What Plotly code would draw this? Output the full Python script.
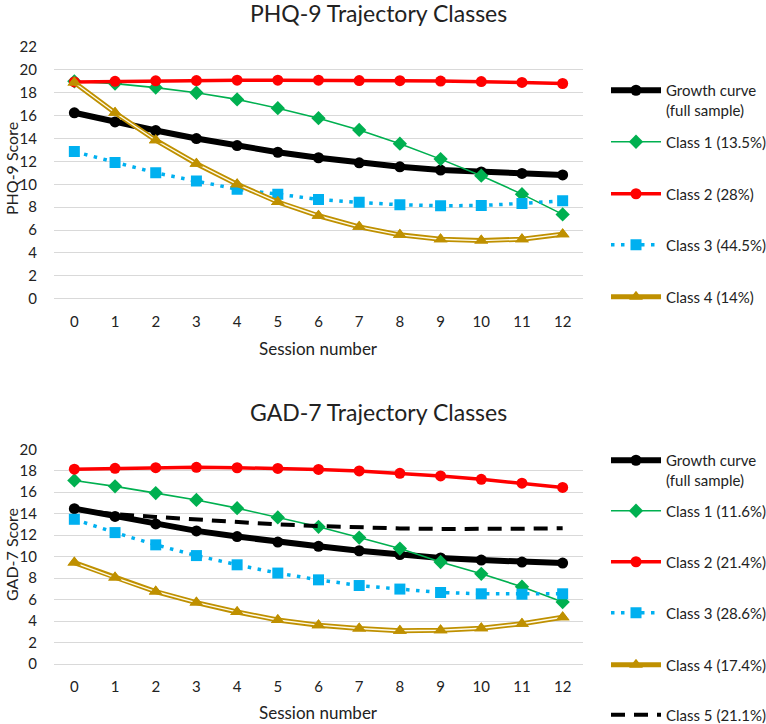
import plotly.graph_objects as go
from plotly.subplots import make_subplots

sessions = list(range(13))

# PHQ-9 panel
phq_growth = [16.25, 15.45, 14.7, 14.0, 13.38, 12.8, 12.32, 11.88, 11.53, 11.24, 11.08, 10.95, 10.82]
phq_c1 = [19.0, 18.8, 18.45, 18.0, 17.42, 16.65, 15.78, 14.75, 13.55, 12.2, 10.75, 9.14, 7.37]
phq_c2 = [18.95, 19.0, 19.04, 19.07, 19.1, 19.1, 19.1, 19.07, 19.06, 19.02, 18.98, 18.9, 18.81]
phq_c3 = [12.86, 11.9, 11.0, 10.28, 9.57, 9.14, 8.68, 8.42, 8.21, 8.12, 8.15, 8.33, 8.56]
phq_c4 = [18.9, 16.25, 13.85, 11.8, 10.0, 8.45, 7.25, 6.28, 5.58, 5.2, 5.08, 5.2, 5.64]
phq_names = ["Growth curve<br>(full sample)", "Class 1 (13.5%)", "Class 2 (28%)",
             "Class 3 (44.5%)", "Class 4 (14%)"]

# GAD-7 panel
gad_growth = [14.47, 13.75, 13.05, 12.4, 11.87, 11.36, 10.96, 10.55, 10.2, 9.88, 9.68, 9.5, 9.4]
gad_c1 = [17.1, 16.55, 15.92, 15.28, 14.52, 13.65, 12.78, 11.78, 10.75, 9.5, 8.4, 7.2, 5.77]
gad_c2 = [18.15, 18.23, 18.29, 18.32, 18.28, 18.22, 18.12, 17.98, 17.76, 17.52, 17.2, 16.84, 16.45]
gad_c3 = [13.48, 12.24, 11.1, 10.1, 9.24, 8.47, 7.84, 7.31, 6.98, 6.66, 6.54, 6.5, 6.54]
gad_c4 = [9.45, 8.05, 6.75, 5.72, 4.85, 4.1, 3.62, 3.3, 3.1, 3.15, 3.33, 3.75, 4.35]
gad_c5 = [14.4, 13.95, 13.7, 13.45, 13.2, 13.0, 12.85, 12.72, 12.63, 12.58, 12.57, 12.6, 12.65]
gad_names = ["Growth curve<br>(full sample)", "Class 1 (11.6%)", "Class 2 (21.4%)",
             "Class 3 (28.6%)", "Class 4 (17.4%)", "Class 5 (21.1%)"]

FONT = "Lato"
TXT = "#222"
GOLD = "#bf9000"

# pixel geometry of the original figure
W, H = 766, 724
L, R, T, B = 54, 183, 47, 60
PW, PH = W - L - R, H - T - B


def px(x):
    return (x - L) / PW


def py(y):
    return (H - B - y) / PH


styles = [
    dict(line=dict(color="black", width=6), marker=dict(symbol="circle", size=11, color="black")),
    dict(line=dict(color="#00b050", width=1.6), marker=dict(symbol="diamond", size=11, color="#00b050")),
    dict(line=dict(color="#ff0000", width=3.5), marker=dict(symbol="circle", size=11, color="#ff0000")),
    dict(line=dict(color="#00b0f0", width=3.5, dash="3.5px,6.5px"),
         marker=dict(symbol="square", size=11, color="#00b0f0")),
    dict(line=dict(color=GOLD, width=5), marker=dict(symbol="triangle-up", size=12, color=GOLD)),
]

fig = make_subplots(rows=2, cols=1, vertical_spacing=0.0)

# legend rows (pixel y of each entry) for both panels
phq_leg_y = [100, 142, 194, 245, 297]
gad_leg_y = [470, 511, 562, 613, 665, 715]


def add_panel(row, series, names, leg_rows, leg_offset):
    for i, (ys, name) in enumerate(zip(series, names)):
        n = leg_offset + i
        leg = "legend" if n == 0 else f"legend{n + 1}"
        if i == 5:
            fig.add_trace(go.Scatter(x=sessions, y=ys, name=name, mode="lines",
                                     line=dict(color="black", width=4, dash="14px,9px"),
                                     legend=leg), row=row, col=1)
        else:
            st = styles[i]
            fig.add_trace(go.Scatter(x=sessions, y=ys, name=name, mode="lines+markers",
                                     line=st["line"], marker=st["marker"], legend=leg),
                          row=row, col=1)
            if i == 4:
                # inner stroke for the double line
                fig.add_trace(go.Scatter(x=sessions, y=ys, mode="lines", showlegend=False,
                                         line=dict(color="#fffbe8", width=1.4)),
                              row=row, col=1)
                fig.add_trace(go.Scatter(x=sessions, y=ys, mode="markers", showlegend=False,
                                         marker=st["marker"]), row=row, col=1)
        fig.layout[leg] = dict(
            x=px(606), y=py(leg_rows[i]), xanchor="left", yanchor="middle",
            bgcolor="rgba(0,0,0,0)", font=dict(family=FONT, size=15, color=TXT),
            itemwidth=50, valign="top" if i == 0 else "middle",
        )


add_panel(1, [phq_growth, phq_c1, phq_c2, phq_c3, phq_c4], phq_names, phq_leg_y, 0)
add_panel(2, [gad_growth, gad_c1, gad_c2, gad_c3, gad_c4, gad_c5], gad_names, gad_leg_y, 5)

axis_font = dict(family=FONT, size=15, color=TXT)
for r in (1, 2):
    fig.update_xaxes(range=[-0.5, 12.5], tickvals=sessions, showgrid=False, zeroline=False,
                     ticks="outside", ticklen=9, tickcolor="rgba(0,0,0,0)",
                     tickfont=axis_font, showline=False, row=r, col=1)
fig.update_yaxes(range=[0, 22], dtick=2, domain=[py(298.7), 1.0], row=1, col=1)
fig.update_yaxes(range=[0, 20], dtick=2, domain=[0.0, py(449.3)], row=2, col=1)
fig.update_yaxes(showgrid=True, gridcolor="#d9d9d9", gridwidth=1, zeroline=True,
                 zerolinecolor="#d9d9d9", zerolinewidth=1, ticks="outside", ticklen=13,
                 tickcolor="rgba(0,0,0,0)", tickfont=axis_font, showline=False)

notes = [
    ("PHQ-9 Trajectory Classes", 378, 13, 23, 0),
    ("GAD-7 Trajectory Classes", 378, 412, 23, 0),
    ("Session number", 318.5, 348, 17, 0),
    ("Session number", 318.5, 712, 17, 0),
    ("PHQ-9 Score", 11, 169, 16, -90),
    ("GAD-7 Score", 11, 555, 16, -90),
]
for text, x, y, size, angle in notes:
    fig.add_annotation(text=text, x=px(x), y=py(y), xref="paper", yref="paper",
                       showarrow=False, textangle=angle, xanchor="center", yanchor="middle",
                       font=dict(family=FONT, size=size, color=TXT))

fig.update_layout(
    width=W, height=H, margin=dict(l=L, r=R, t=T, b=B, autoexpand=False),
    paper_bgcolor="white", plot_bgcolor="white", hovermode=False,
)

# drop the browser's default body margin so the figure fills the window
fig.write_html("out.html", config={"displayModeBar": False},
               post_script="document.body.style.margin = '0';")
